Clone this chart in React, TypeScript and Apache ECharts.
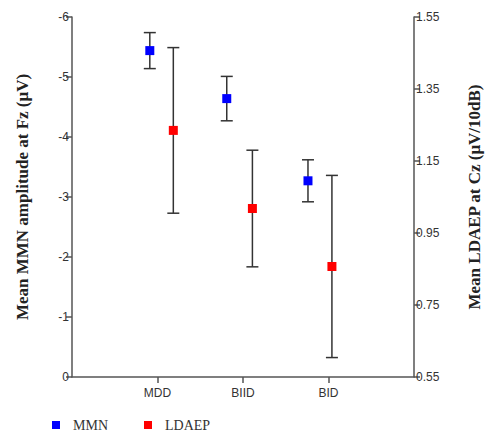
import React, { useEffect, useRef } from "react";
import * as echarts from "echarts";

const categories = ["", "MDD", "BIID", "BID", ""];
const mmnMean = [-5.44, -4.64, -3.27];
const mmnErr = [0.3, 0.37, 0.35];
const mmnX = [0.91, 1.81, 2.76];
const ldaepMean = [1.235, 1.018, 0.857];
const ldaepErr = [0.23, 0.162, 0.253];
const ldaepX = [1.185, 2.11, 3.04];

const leftTicks = { min: -6, max: 0, interval: 1 };
const rightTicks = { min: 0.55, max: 1.55, interval: 0.2 };

const AXIS_COLOR = "#555";
const LABEL_COLOR = "#333";
const SERIF = "'Liberation Serif', 'Times New Roman', serif";
const SANS = "'Liberation Sans', Arial, sans-serif";

function errorBarRender(params: any, api: any) {
  const x = api.value(0);
  const y = api.value(1);
  const e = api.value(2);
  const top = api.coord([x, y + e]);
  const bot = api.coord([x, y - e]);
  const hw = 6;
  const style = { stroke: "#333", lineWidth: 1.5 };
  return {
    type: "group",
    children: [
      { type: "line", shape: { x1: top[0], y1: top[1], x2: bot[0], y2: bot[1] }, style },
      { type: "line", shape: { x1: top[0] - hw, y1: top[1], x2: top[0] + hw, y2: top[1] }, style },
      { type: "line", shape: { x1: bot[0] - hw, y1: bot[1], x2: bot[0] + hw, y2: bot[1] }, style },
    ],
  };
}

export default function App() {
  const ref = useRef<HTMLDivElement>(null);
  useEffect(() => {
    document.body.style.margin = "0";
    const chart = echarts.init(ref.current!, null, { renderer: "svg" });
    const mmnData = mmnMean.map((v, i) => [mmnX[i], v, mmnErr[i]]);
    const ldData = ldaepMean.map((v, i) => [ldaepX[i], v, ldaepErr[i]]);
    chart.setOption({
      animation: false,
      grid: { left: 72, right: 68, top: 17, bottom: 59 },
      legend: {
        data: ["MMN", "LDAEP"],
        left: 47,
        top: 413,
        icon: "rect",
        itemWidth: 8,
        itemHeight: 8,
        itemGap: 36,
        itemStyle: { opacity: 1 },
        textStyle: { fontFamily: SERIF, fontSize: 14, color: LABEL_COLOR, padding: [0, 0, 0, 8] },
      },
      xAxis: [
        {
          type: "category",
          data: categories,
          boundaryGap: false,
          axisLine: { lineStyle: { color: AXIS_COLOR, width: 1.5 } },
          axisTick: {
            length: 6,
            lineStyle: { color: AXIS_COLOR, width: 1.5 },
            interval: (i: number) => i >= 1 && i <= 3,
          },
          axisLabel: {
            interval: 0,
            margin: 10,
            fontFamily: SANS,
            fontSize: 12,
            color: LABEL_COLOR,
          },
          splitLine: { show: false },
        },
        {
          type: "value",
          min: 0,
          max: 4,
          show: false,
        },
      ],
      yAxis: [
        {
          type: "value",
          inverse: true,
          min: leftTicks.min,
          max: leftTicks.max,
          interval: leftTicks.interval,
          position: "left",
          name: "Mean MMN amplitude at Fz (\u03bcV)",
          nameLocation: "middle",
          nameGap: 41,
          nameTextStyle: { fontFamily: SERIF, fontSize: 17, fontWeight: "bold", color: "#222" },
          axisLine: { show: true, lineStyle: { color: AXIS_COLOR, width: 1.5 } },
          axisTick: { show: true, length: 6, lineStyle: { color: AXIS_COLOR, width: 1.5 } },
          axisLabel: { margin: 3, fontFamily: SANS, fontSize: 12, color: LABEL_COLOR },
          splitLine: { show: false },
        },
        {
          type: "value",
          min: rightTicks.min,
          max: rightTicks.max,
          interval: rightTicks.interval,
          position: "right",
          name: "Mean LDAEP at Cz (\u03bcV/10dB)",
          nameLocation: "middle",
          nameGap: 52,
          nameRotate: 90,
          nameTextStyle: { fontFamily: SERIF, fontSize: 17, fontWeight: "bold", color: "#222" },
          axisLine: { show: true, lineStyle: { color: AXIS_COLOR, width: 1.5 } },
          axisTick: { show: true, length: 6, lineStyle: { color: AXIS_COLOR, width: 1.5 } },
          axisLabel: {
            margin: 2,
            fontFamily: SANS,
            fontSize: 12,
            color: LABEL_COLOR,
            formatter: (v: number) => v.toFixed(2),
          },
          splitLine: { show: false },
        },
      ],
      series: [
        {
          name: "MMN-err",
          type: "custom",
          xAxisIndex: 1,
          yAxisIndex: 0,
          renderItem: errorBarRender,
          data: mmnData,
          z: 1,
        },
        {
          name: "LDAEP-err",
          type: "custom",
          xAxisIndex: 1,
          yAxisIndex: 1,
          renderItem: errorBarRender,
          data: ldData,
          z: 1,
        },
        {
          name: "MMN",
          type: "scatter",
          xAxisIndex: 1,
          yAxisIndex: 0,
          symbol: "rect",
          symbolSize: 9,
          itemStyle: { color: "#0000ff", opacity: 1 },
          data: mmnData,
          z: 3,
        },
        {
          name: "LDAEP",
          type: "scatter",
          xAxisIndex: 1,
          yAxisIndex: 1,
          symbol: "rect",
          symbolSize: 9,
          itemStyle: { color: "#ff0000", opacity: 1 },
          data: ldData,
          z: 3,
        },
      ],
    });
    return () => chart.dispose();
  }, []);
  return <div ref={ref} style={{ width: 491, height: 436 }} />;
}
